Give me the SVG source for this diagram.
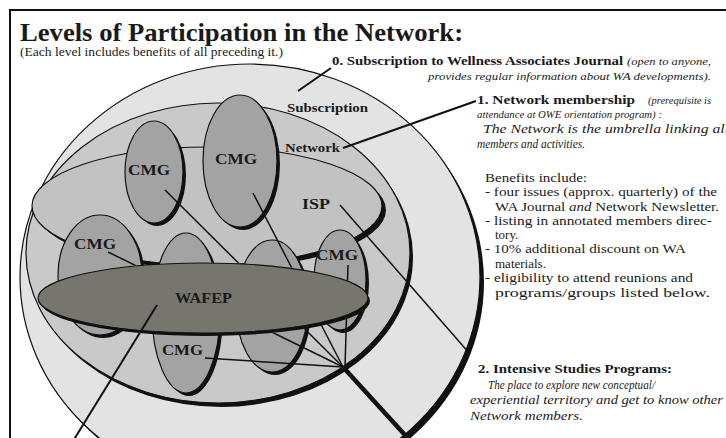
<svg xmlns="http://www.w3.org/2000/svg" width="726" height="438" viewBox="0 0 726 438">
<style>
.sh{fill:#111}
.ol{stroke:#111;stroke-width:1.2}
.sub{fill:#e3e3e3}
.net{fill:#c9c9c9}
.isp{fill:#c2c2c2}
.cmg{fill:#a3a3a3}
.waf{fill:#76766f}
.lbl{font-family:"Liberation Serif",serif;font-weight:bold;fill:#1a1a1a}
.txt{font-family:"Liberation Serif",serif;fill:#1a1a1a}
.it{font-style:italic}
.b{font-weight:bold}
.conn{stroke:#111;fill:none;stroke-linecap:butt}
</style>
<defs>
<mask id="underWafep" maskUnits="userSpaceOnUse" x="0" y="0" width="726" height="438">
<rect x="0" y="0" width="726" height="438" fill="#fff"/>
<ellipse cx="204" cy="299" rx="166" ry="37" fill="#000"/>
</mask>
</defs>
<rect x="0" y="0" width="726" height="438" fill="#fff"/>
<path d="M10,438 V10 H726" fill="none" stroke="#111" stroke-width="2"/>

<g id="title">
<text class="lbl" x="20" y="41" font-size="25" textLength="443" lengthAdjust="spacingAndGlyphs">Levels of Participation in the Network:</text>
<text class="txt" x="20" y="56" font-size="12" textLength="263" lengthAdjust="spacingAndGlyphs">(Each level includes benefits of all preceding it.)</text>
</g>

<g id="subscription">
<ellipse class="sh" cx="254" cy="282" rx="230" ry="213"/>
<ellipse class="sub ol" cx="250" cy="277" rx="230" ry="213"/>
<text class="lbl" x="287" y="112" font-size="13" textLength="81" lengthAdjust="spacingAndGlyphs">Subscription</text>
</g>

<g id="network">
<ellipse class="sh" cx="221" cy="257" rx="192" ry="150"/>
<ellipse class="net ol" cx="218" cy="253" rx="192" ry="150"/>
<text class="lbl" x="285" y="152" font-size="13" textLength="55" lengthAdjust="spacingAndGlyphs">Network</text>
</g>

<g id="isp">
<ellipse class="sh" cx="211" cy="210" rx="175" ry="59"/>
<ellipse class="isp ol" cx="207" cy="206" rx="175" ry="59"/>
<text class="lbl" x="302" y="209" font-size="15" textLength="28" lengthAdjust="spacingAndGlyphs">ISP</text>
</g>

<g id="cmg1">
<ellipse class="sh" cx="157" cy="175" rx="29" ry="51"/>
<ellipse class="cmg ol" cx="154" cy="172" rx="29" ry="51"/>
<text class="lbl" x="128" y="175" font-size="14" textLength="42" lengthAdjust="spacingAndGlyphs">CMG</text>
</g>
<g id="cmg2">
<ellipse class="sh" cx="243" cy="164" rx="37" ry="66"/>
<ellipse class="cmg ol" cx="240" cy="161" rx="37" ry="66"/>
<text class="lbl" x="215" y="164" font-size="14" textLength="42" lengthAdjust="spacingAndGlyphs">CMG</text>
</g>
<g id="cmg3">
<ellipse class="sh" cx="103" cy="278" rx="42" ry="60"/>
<ellipse class="cmg ol" cx="100" cy="275" rx="42" ry="60"/>
<text class="lbl" x="74" y="249" font-size="14" textLength="42" lengthAdjust="spacingAndGlyphs">CMG</text>
</g>
<g id="cmg4">
<ellipse class="sh" cx="189" cy="316" rx="34" ry="80"/>
<ellipse class="cmg ol" cx="186" cy="313" rx="34" ry="80"/>
<text class="lbl" x="162" y="355" font-size="14" textLength="41" lengthAdjust="spacingAndGlyphs">CMG</text>
</g>
<g id="cmg5">
<ellipse class="sh" cx="275" cy="309" rx="36" ry="66"/>
<ellipse class="cmg ol" cx="272" cy="306" rx="36" ry="66"/>
</g>
<g id="cmg6">
<ellipse class="sh" cx="343" cy="283" rx="26" ry="50"/>
<ellipse class="cmg ol" cx="340" cy="280" rx="26" ry="50"/>
<text class="lbl" x="316" y="260" font-size="14" textLength="42" lengthAdjust="spacingAndGlyphs">CMG</text>
</g>

<g id="wafep">
<ellipse class="sh" cx="205" cy="301" rx="165" ry="35"/>
<ellipse class="waf ol" cx="203" cy="298" rx="165" ry="35"/>
<text class="lbl" x="175" y="303" font-size="14" textLength="57" lengthAdjust="spacingAndGlyphs">WAFEP</text>
</g>

<g id="connectors">
<line class="conn" x1="331" y1="68" x2="298" y2="91" stroke-width="2"/>
<line class="conn" x1="476" y1="101" x2="343" y2="148" stroke-width="2"/>
<line class="conn" x1="340" y1="205" x2="470" y2="354" stroke-width="1.5"/>
<g mask="url(#underWafep)" stroke-width="1.5">
<line class="conn" x1="165" y1="190" x2="343" y2="367"/>
<line class="conn" x1="253" y1="193" x2="343" y2="367"/>
<line class="conn" x1="108" y1="252" x2="343" y2="367"/>
<line class="conn" x1="348" y1="265" x2="345" y2="367"/>
<line class="conn" x1="205" y1="358" x2="343" y2="367"/>
</g>
<line class="conn" x1="343" y1="367" x2="415" y2="446" stroke-width="4.5"/>
<line class="conn" x1="157" y1="305" x2="70" y2="446" stroke-width="2"/>
</g>

<g id="text-level0">
<text class="txt b" x="332" y="65" font-size="12.5" textLength="291" lengthAdjust="spacingAndGlyphs">0. Subscription to Wellness Associates Journal</text>
<text class="txt it" x="627" y="65" font-size="10.5" textLength="84" lengthAdjust="spacingAndGlyphs">(open to anyone,</text>
<text class="txt it" x="428" y="80" font-size="10.5" textLength="283" lengthAdjust="spacingAndGlyphs">provides regular information about WA developments).</text>
</g>

<g id="text-level1">
<text class="txt b" x="477" y="104" font-size="13.5" textLength="158" lengthAdjust="spacingAndGlyphs">1. Network membership</text>
<text class="txt it" x="648" y="104" font-size="10.5">(prerequisite is</text>
<text class="txt it" x="477" y="118" font-size="10.5" textLength="185" lengthAdjust="spacingAndGlyphs">attendance at OWE orientation program) :</text>
<text class="txt it" x="483" y="133" font-size="12.5" textLength="246" lengthAdjust="spacingAndGlyphs">The Network is the umbrella linking all</text>
<text class="txt it" x="477" y="148" font-size="12.5" textLength="108" lengthAdjust="spacingAndGlyphs">members and activities.</text>
<text class="txt" x="485" y="182" font-size="13" textLength="102" lengthAdjust="spacingAndGlyphs">Benefits include:</text>
<text class="txt" x="485" y="196" font-size="13" textLength="232" lengthAdjust="spacingAndGlyphs">- four issues (approx. quarterly) of the</text>
<text class="txt" x="495" y="211" font-size="13" textLength="224" lengthAdjust="spacingAndGlyphs">WA Journal <tspan class="it">and</tspan> Network Newsletter.</text>
<text class="txt" x="485" y="225" font-size="13" textLength="227" lengthAdjust="spacingAndGlyphs">- listing in annotated members direc-</text>
<text class="txt" x="495" y="239" font-size="13">tory.</text>
<text class="txt" x="485" y="253" font-size="13" textLength="201" lengthAdjust="spacingAndGlyphs">- 10% additional discount on WA</text>
<text class="txt" x="495" y="268" font-size="13">materials.</text>
<text class="txt" x="485" y="282" font-size="13" textLength="208" lengthAdjust="spacingAndGlyphs">- eligibility to attend reunions and</text>
<text class="txt" x="495" y="297" font-size="13" textLength="215" lengthAdjust="spacingAndGlyphs">programs/groups listed below.</text>
</g>

<g id="text-level2">
<text class="txt b" x="478" y="373" font-size="13.5" textLength="194" lengthAdjust="spacingAndGlyphs">2. Intensive Studies Programs:</text>
<text class="txt it" x="488" y="389" font-size="12.5" textLength="167" lengthAdjust="spacingAndGlyphs">The place to explore new conceptual/</text>
<text class="txt it" x="470" y="404" font-size="12.5" textLength="253" lengthAdjust="spacingAndGlyphs">experiential territory and get to know other</text>
<text class="txt it" x="470" y="420" font-size="12.5" textLength="113" lengthAdjust="spacingAndGlyphs">Network members.</text>
</g>
</svg>
